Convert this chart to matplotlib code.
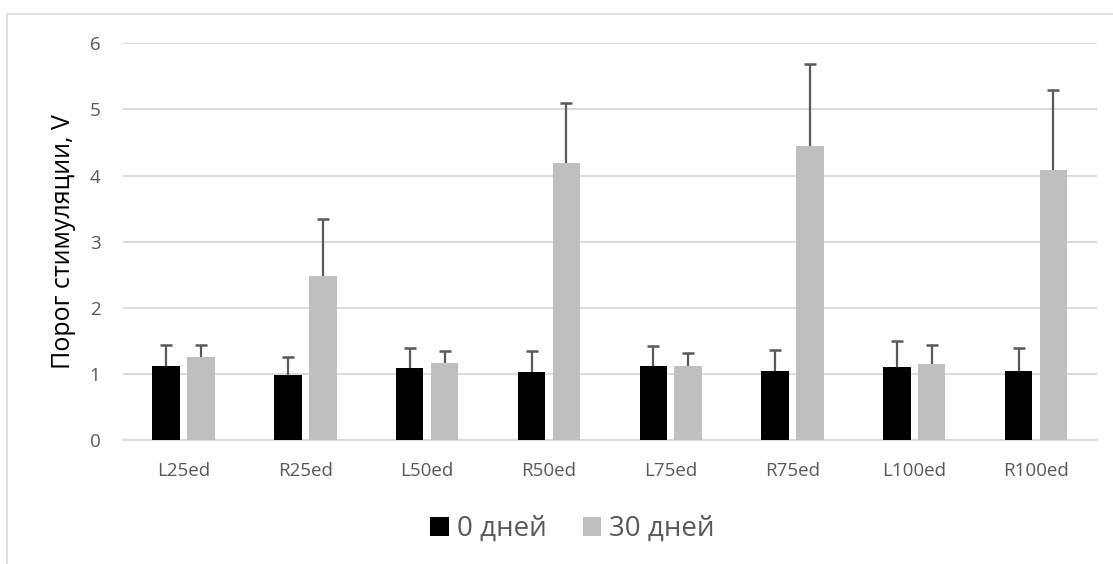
import matplotlib.pyplot as plt
import numpy as np
from matplotlib.patches import Rectangle

categories = ["L25ed", "R25ed", "L50ed", "R50ed", "L75ed", "R75ed", "L100ed", "R100ed"]
day0 = [1.12, 0.98, 1.09, 1.03, 1.12, 1.04, 1.10, 1.04]
day0_top = [1.44, 1.25, 1.39, 1.35, 1.42, 1.36, 1.49, 1.39]
day30 = [1.26, 2.48, 1.16, 4.19, 1.12, 4.44, 1.15, 4.09]
day30_top = [1.43, 3.35, 1.34, 5.10, 1.32, 5.69, 1.43, 5.29]
series_names = ["0 дней", "30 дней"]
yticks = [0, 1, 2, 3, 4, 5, 6]

GRID = "#d9d9d9"
TEXT = "#595959"
plt.rcParams["font.family"] = ["Open Sans", "DejaVu Sans"]

fig = plt.figure(figsize=(11.13, 5.64), dpi=100)
fig.patches.append(Rectangle((7 / 1113, -0.1), 1.2, (564 - 14) / 564 + 0.1,
                             transform=fig.transFigure, fill=False,
                             edgecolor=GRID, linewidth=1.2))
ax = fig.add_axes([0.1102, 0.2199, 0.8754, 0.7033])

x = np.arange(len(categories))
w = 0.226
off = 0.143
ax.bar(x - off, day0, w, color="black", label=series_names[0], zorder=3)
ax.bar(x + off, day30, w, color="#bfbfbf", label=series_names[1], zorder=3)

# только верхние усы, колпачок только сверху
for xs, mean, top in [(x - off, day0, day0_top), (x + off, day30, day30_top)]:
    up = np.array(top) - np.array(mean)
    ax.errorbar(xs, mean, yerr=[np.zeros(len(xs)), up], fmt="none",
                ecolor=TEXT, elinewidth=1.6, capsize=0, zorder=2)
    ax.plot(xs, top, linestyle="none", marker="_", markersize=9,
            markeredgewidth=1.8, color=TEXT, zorder=2)

ax.set_xlim(-0.5, len(categories) - 0.5)
ax.set_ylim(0, 6)
ax.set_yticks(yticks)
ax.set_xticks(x)
ax.set_xticklabels(categories)
ax.yaxis.grid(True, color=GRID, linewidth=1.3, zorder=0)
ax.set_axisbelow(True)
for s in ["top", "right", "left"]:
    ax.spines[s].set_visible(False)
ax.spines["bottom"].set_color(GRID)
ax.spines["bottom"].set_linewidth(1.3)
ax.tick_params(length=0, labelsize=13.5, colors=TEXT)
ax.tick_params(axis="x", pad=16)
ax.tick_params(axis="y", pad=16)
ax.set_ylabel("Порог стимуляции, V", fontsize=18, color="black", labelpad=10)

leg = fig.legend(loc="center", bbox_to_anchor=(0.5144, 1 - 529 / 564), ncol=2,
                 frameon=False, fontsize=20, handlelength=0.65, handleheight=0.65,
                 handletextpad=0.3, columnspacing=1.3)
for t in leg.get_texts():
    t.set_color(TEXT)

fig.savefig("out.png", dpi=100)
